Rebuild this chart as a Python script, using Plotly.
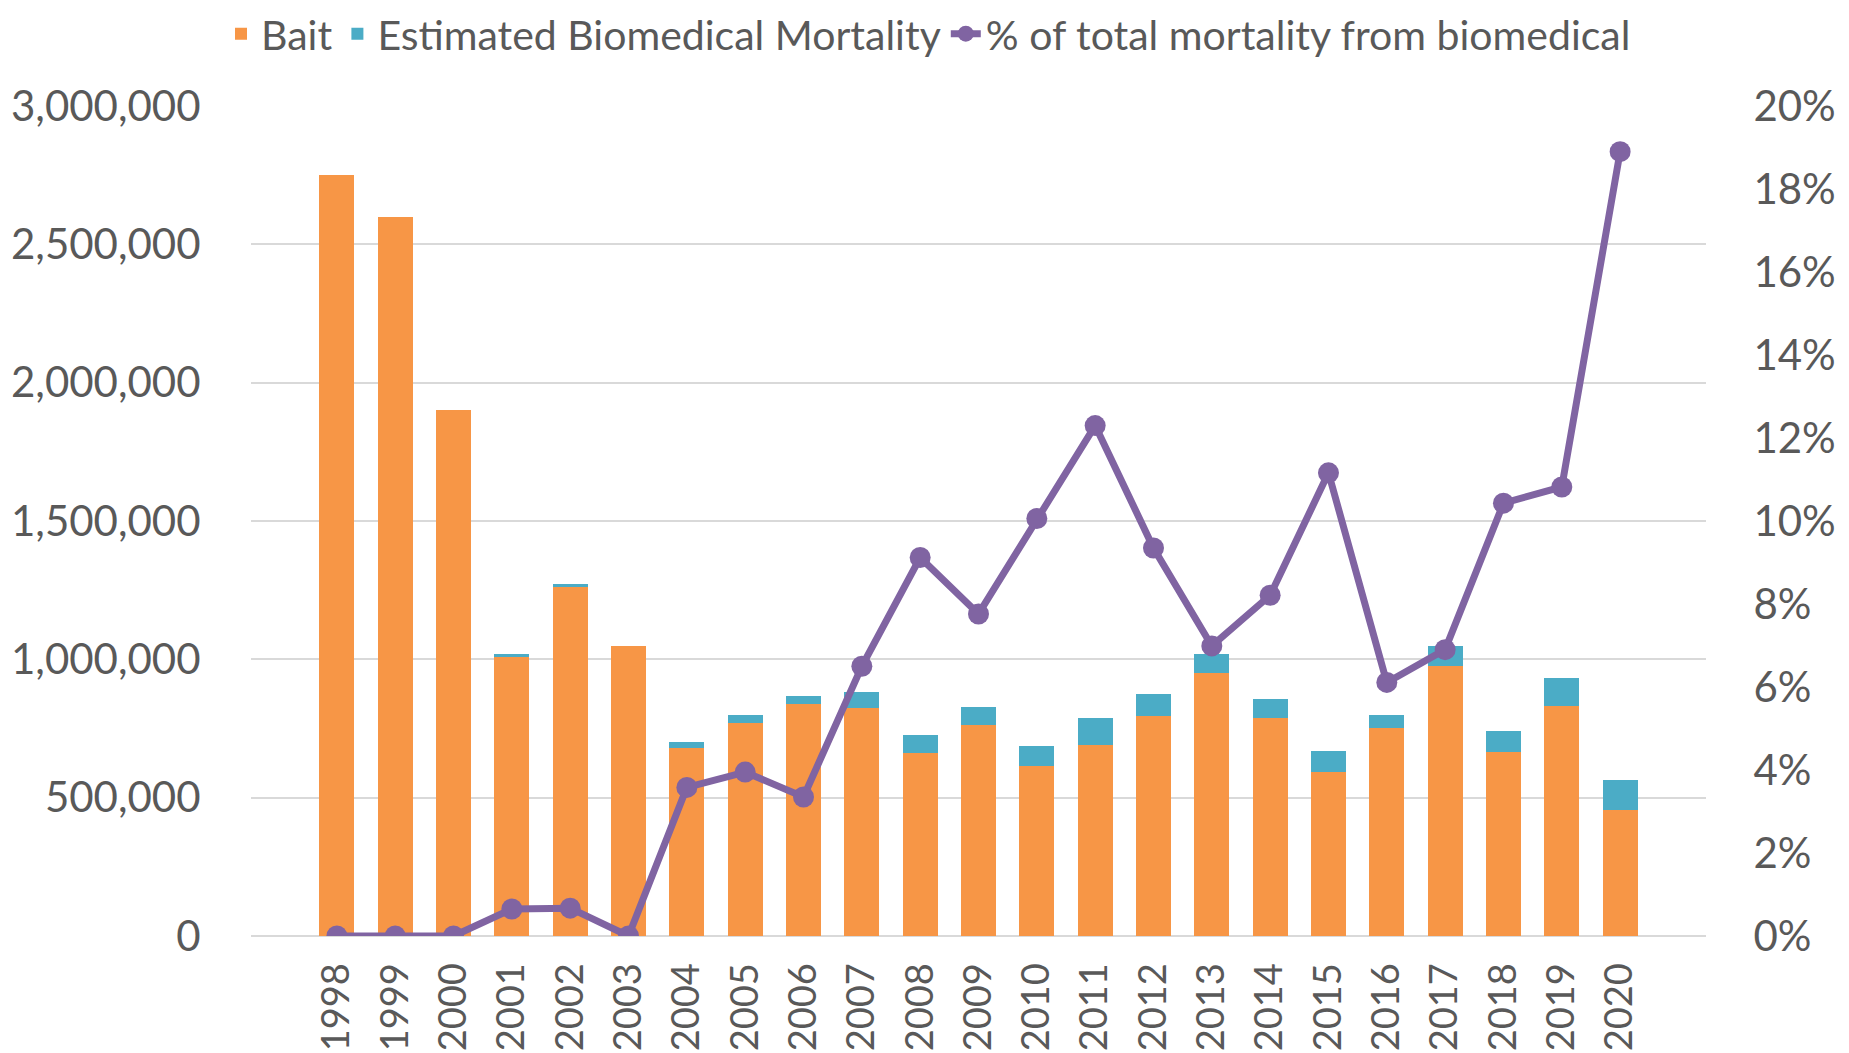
import plotly.graph_objects as go

years = [str(y) for y in range(1998, 2021)]
bait = [2750000, 2600000, 1900000, 1010000, 1262000, 1050000, 678000, 771000, 840000, 825000,
        662000, 763000, 615000, 692000, 797000, 950000, 788000, 594000, 751000, 976000,
        665000, 832000, 457000]
biomedical = [0, 0, 0, 8000, 10000, 0, 25000, 29000, 29000, 58000,
              63000, 65000, 70000, 96000, 78000, 70000, 70000, 75000, 47000, 73000,
              76000, 102000, 106000]
pct = [0.0, 0.0, 0.0, 0.0065, 0.0067, 0.0, 0.0358, 0.0395, 0.0335, 0.065,
       0.0912, 0.0776, 0.1006, 0.123, 0.0935, 0.0699, 0.0821, 0.1116, 0.0611, 0.069,
       0.1043, 0.1082, 0.189]

FONT = "Lato"
TXT = "#595959"

# page body has an 8px default margin, so the figure is 16px smaller than the window
W, H = 1841, 1045

fig = go.Figure()
fig.add_trace(go.Bar(x=years, y=bait, name="Bait",
                     marker=dict(color="#F79646", line=dict(width=0))))
fig.add_trace(go.Bar(x=years, y=biomedical, name="Estimated Biomedical Mortality",
                     marker=dict(color="#4BACC6", line=dict(width=0))))
fig.add_trace(go.Scatter(x=years, y=pct, name="% of total mortality from biomedical", yaxis="y2",
                         mode="lines+markers", line=dict(color="#8064A2", width=7),
                         marker=dict(color="#8064A2", size=21)))

fig.update_layout(
    width=W, height=H,
    margin=dict(l=243, r=143, t=98, b=117),
    barmode="stack", bargap=0.4,
    plot_bgcolor="white", paper_bgcolor="white",
    font=dict(family=FONT, color=TXT, size=41),
    showlegend=True,
    legend=dict(orientation="h", xref="container", yref="container", x=0.5, xanchor="center",
                y=1 - 26 / H, yanchor="middle", font=dict(size=41, family=FONT, color=TXT),
                traceorder="normal", itemsizing="trace", bgcolor="rgba(0,0,0,0)"),
    xaxis=dict(type="category", tickangle=-90, showgrid=False, showline=False, automargin=False,
               ticks="outside", ticklen=11, tickcolor="rgba(0,0,0,0)",
               tickfont=dict(size=38, family=FONT, color=TXT)),
    yaxis=dict(range=[0, 3000000], dtick=500000, tickformat=",", showgrid=True, automargin=False,
               gridcolor="#D9D9D9", gridwidth=2, zeroline=True, zerolinecolor="#D9D9D9",
               zerolinewidth=2, showline=False, ticks="outside", ticklen=41,
               tickcolor="rgba(0,0,0,0)", tickfont=dict(size=42, family=FONT, color=TXT)),
    yaxis2=dict(range=[0, 0.2], dtick=0.02, tickformat=".0%", overlaying="y", side="right",
                automargin=False, showgrid=False, zeroline=False, showline=False,
                ticks="outside", ticklen=38, tickcolor="rgba(0,0,0,0)",
                tickfont=dict(size=42, family=FONT, color=TXT)),
)

fig.write_html("out.html")
